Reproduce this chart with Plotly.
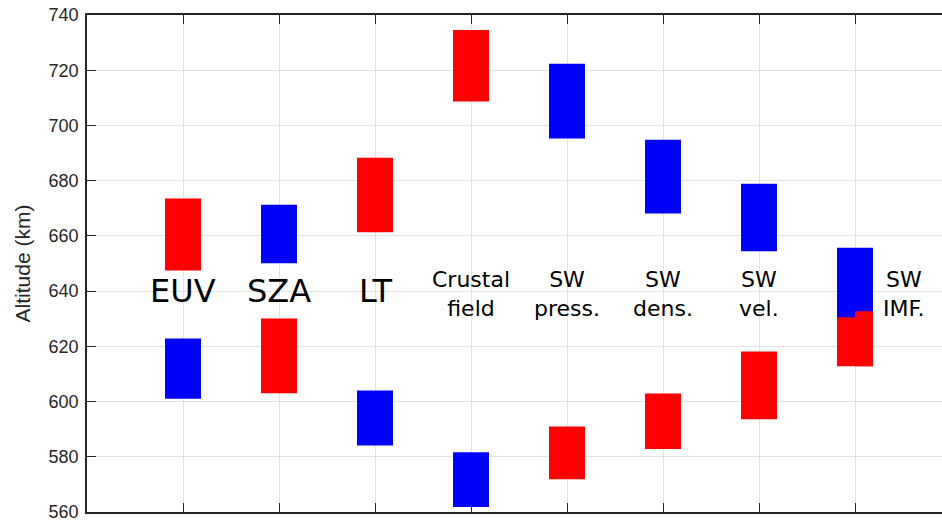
import plotly.graph_objects as go

# Driver categories (x positions 1..8) and their annotation text
categories = ["EUV", "SZA", "LT", "Crustal field", "SW press.", "SW dens.", "SW vel.", "SW IMF."]
label_text = ["EUV", "SZA", "LT", "Crustal<br>field", "SW<br>press.", "SW<br>dens.", "SW<br>vel.", "SW<br>IMF."]
label_big = [True, True, True, False, False, False, False, False]
label_x = [1, 2, 3, 4, 5, 6, 7, 8.51]
label_y = [640, 640, 640, 639, 639, 639, 639, 639]

# Altitude ranges (km) for the high (red) and low (blue) driver conditions
red_low = [647.5, 603.0, 661.3, 708.7, 571.9, 582.8, 593.6, 612.8]
red_high = [673.5, 630.1, 688.3, 734.6, 591.0, 602.9, 618.1, 632.7]
blue_low = [601.0, 650.1, 584.1, 561.8, 695.3, 668.1, 654.4, 630.5]
blue_high = [622.8, 671.3, 604.0, 581.6, 722.3, 694.8, 678.9, 655.7]

y_ticks = [560, 580, 600, 620, 640, 660, 680, 700, 720, 740]

xpos = list(range(1, len(categories) + 1))
bar_w = 0.375

fig = go.Figure()
fig.add_trace(go.Bar(
    x=xpos, base=red_low, y=[h - l for h, l in zip(red_high, red_low)],
    width=bar_w, marker=dict(color="#ff0000", line=dict(width=0)),
    hoverinfo="skip", showlegend=False,
))
fig.add_trace(go.Bar(
    x=xpos, base=blue_low, y=[h - l for h, l in zip(blue_high, blue_low)],
    width=bar_w, marker=dict(color="#0000ff", line=dict(width=0)),
    hoverinfo="skip", showlegend=False,
))
# right half of the last red patch sits above the blue one
fig.add_trace(go.Bar(
    x=[xpos[-1]], base=[red_low[-1]], y=[red_high[-1] - red_low[-1]],
    width=bar_w / 2, offset=0, marker=dict(color="#ff0000", line=dict(width=0)),
    hoverinfo="skip", showlegend=False,
))

for tx, ty, txt, big in zip(label_x, label_y, label_text, label_big):
    fig.add_annotation(
        x=tx, y=ty, xref="x", yref="y", text=txt, showarrow=False,
        xanchor="center", yanchor="middle",
        font=dict(family="DejaVu Sans", size=32 if big else 22, color="black"),
    )

axis_col = "#262626"
fig.update_layout(
    width=942, height=521,
    margin=dict(l=87, r=0, t=15, b=9),
    paper_bgcolor="white", plot_bgcolor="white",
    barmode="overlay",
    xaxis=dict(
        range=[0, 855 / 96], tickvals=xpos, ticktext=[""] * len(xpos),
        showgrid=True, gridcolor="#e3e3e3", gridwidth=1,
        showline=True, linecolor=axis_col, linewidth=1.5, mirror="ticks",
        ticks="inside", ticklen=9, tickcolor=axis_col, tickwidth=1.2,
        zeroline=False, fixedrange=True,
    ),
    yaxis=dict(
        range=[560, 740], tickvals=y_ticks,
        showgrid=True, gridcolor="#e3e3e3", gridwidth=1,
        showline=True, linecolor=axis_col, linewidth=1.5,
        ticks="inside", ticklen=9, tickcolor=axis_col, tickwidth=1.2,
        ticklabeloverflow="allow", ticklabelstandoff=3,
        tickfont=dict(family="Liberation Sans", size=18, color=axis_col),
        title=dict(text="Altitude (km)", font=dict(family="Liberation Sans", size=21, color=axis_col), standoff=12),
        zeroline=False, fixedrange=True,
    ),
)

fig.write_html("out.html")
